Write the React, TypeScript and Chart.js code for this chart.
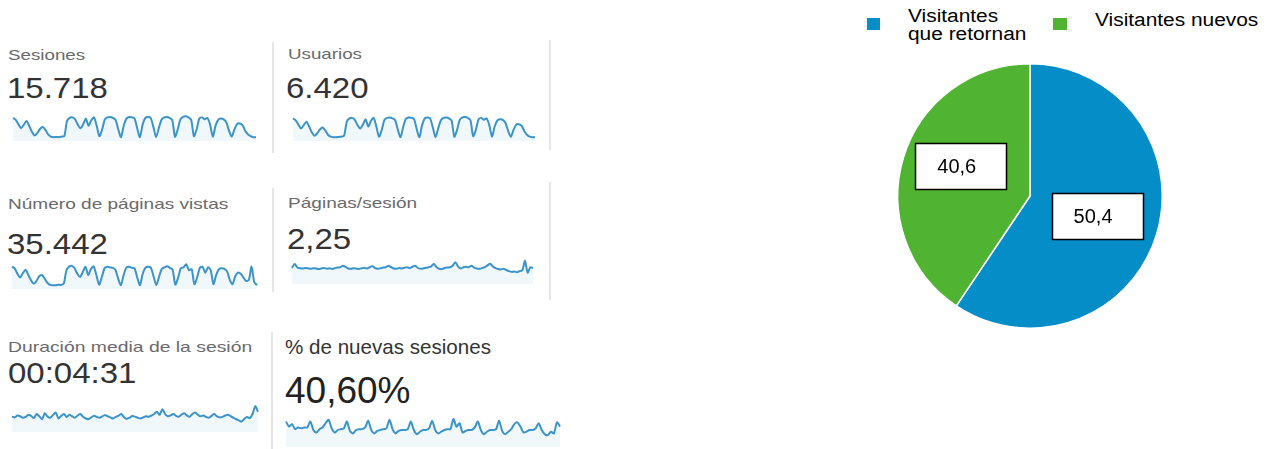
import React, { useEffect, useRef } from "react";
import { Chart, registerables } from "chart.js";

Chart.register(...registerables);

// ---------- DATA ----------
const metricLabels = [
  "Sesiones",
  "Usuarios",
  "Número de páginas vistas",
  "Páginas/sesión",
  "Duración media de la sesión",
  "% de nuevas sesiones",
];
const metricValues = ["15.718", "6.420", "35.442", "2,25", "00:04:31", "40,60%"];

const sesionesSeries = [
  88, 80, 62, 45, 60, 75, 55, 30, 15, 25,
  42, 50, 38, 20, 10, 8, 9, 8, 10, 12,
  75, 88, 90, 82, 60, 45, 62, 85, 55, 78,
  90, 55, 12, 40, 82, 90, 92, 88, 80, 40,
  8, 55, 85, 92, 90, 86, 45, 8, 60, 88,
  92, 88, 50, 8, 45, 80, 90, 92, 88, 78,
  10, 40, 82, 92, 95, 90, 80, 12, 40, 85,
  90, 82, 88, 60, 10, 55, 80, 85, 82, 70,
  35, 10, 40, 62, 65, 58, 35, 20, 12, 8,
  8,
];
const usuariosSeries = [
  86, 78, 60, 44, 58, 72, 52, 28, 14, 24,
  40, 48, 36, 18, 10, 8, 8, 9, 10, 14,
  72, 86, 88, 80, 58, 44, 60, 82, 52, 76,
  88, 52, 10, 38, 80, 88, 90, 86, 78, 38,
  8, 52, 84, 90, 88, 84, 42, 8, 58, 86,
  90, 86, 48, 8, 44, 78, 88, 90, 86, 76,
  10, 38, 80, 90, 92, 88, 78, 12, 38, 82,
  88, 80, 86, 58, 10, 52, 78, 82, 80, 68,
  34, 10, 38, 60, 62, 56, 34, 18, 10, 8,
  8,
];
const paginasVistasSeries = [
  85, 78, 55, 40, 58, 72, 50, 28, 14, 26,
  45, 50, 35, 18, 9, 8, 8, 10, 9, 14,
  70, 85, 88, 78, 55, 42, 62, 84, 50, 75,
  86, 50, 10, 42, 78, 84, 82, 80, 72, 35,
  8, 50, 80, 84, 80, 78, 40, 8, 55, 80,
  84, 80, 45, 8, 42, 75, 82, 86, 80, 72,
  10, 38, 78, 82, 95, 70, 74, 12, 40, 80,
  84, 60, 82, 70, 12, 50, 75, 78, 76, 65,
  30, 12, 45, 60, 55, 40, 25, 30, 85, 20,
  8,
];
const paginasSesionSeries = [
  2.26, 2.5, 2.28, 2.24, 2.22, 2.25, 2.23, 2.2, 2.24, 2.22,
  2.18, 2.22, 2.25, 2.2, 2.23, 2.19, 2.24, 2.28, 2.3, 2.4,
  2.32, 2.22, 2.2, 2.24, 2.21, 2.18, 2.23, 2.26, 2.22, 2.3,
  2.37, 2.25, 2.2, 2.23, 2.28, 2.3, 2.4, 2.3, 2.22, 2.2,
  2.25, 2.22, 2.27, 2.3, 2.24, 2.33, 2.4, 2.25, 2.2, 2.22,
  2.26, 2.3, 2.36, 2.5, 2.3, 2.2, 2.18, 2.25, 2.28, 2.3,
  2.4, 2.62, 2.35, 2.22, 2.3, 2.33, 2.3, 2.4, 2.28, 2.22,
  2.2, 2.24, 2.3, 2.42, 2.52, 2.35, 2.24, 2.18, 2.15, 2.2,
  2.12, 2.05, 2.0, 2.02, 1.98, 2.05, 2.1, 2.72, 1.95, 2.3,
  2.25,
];
const duracionSeries = [
  265, 255, 280, 270, 250, 262, 290, 275, 245, 300,
  270, 230, 310, 265, 250, 285, 320, 240, 275, 300,
  260, 290, 270, 250, 280, 300, 262, 240, 230, 255,
  275, 262, 250, 268, 285, 270, 255, 240, 262, 278,
  300, 258, 235, 250, 272, 265, 250, 240, 255, 270,
  262, 280, 300, 330, 290, 365, 300, 270, 280, 300,
  275, 262, 290, 310, 280, 262, 300, 320, 290, 270,
  280, 262, 250, 275, 300, 268, 255, 262, 280, 290,
  270, 250, 230, 215, 200, 235, 260, 245, 300, 405,
  330,
];
const nuevasSeries = [
  50, 44, 47, 41, 43, 42, 43, 43, 50, 40,
  37, 41, 43, 48, 52, 42, 37, 40, 41, 42,
  50, 39, 36, 40, 41, 41, 43, 51, 40, 36,
  39, 40, 41, 42, 52, 41, 36, 39, 40, 40,
  41, 50, 40, 35, 38, 40, 40, 42, 51, 40,
  36, 38, 40, 41, 41, 53, 44, 48, 37, 39,
  40, 40, 43, 50, 40, 35, 38, 40, 40, 41,
  51, 39, 35, 38, 41, 47, 49, 44, 37, 38,
  40, 40, 42, 48, 40, 35, 34, 38, 36, 49,
  44,
];

const pieCategories = ["Visitantes que retornan", "Visitantes nuevos"];
const pieValues = [59.4, 40.6];
const pieLabelTexts = ["50,4", "40,6"];

// ---------- STYLE ----------
const FONT = "'Liberation Sans', Arial, Helvetica, sans-serif";
const PIE_COLORS = ["#058DC7", "#50B432"];
const SPARK_LINE = "#3a94cb";
const SPARK_FILL = "rgba(5,141,199,0.06)";
const PAD = 3;
const LABEL_RADIUS = [0.53, 0.57];
const LABEL_ANGLE_SHIFT = [0, 6.4];
const BOX_W = 91;
const BOX_H = 46;

type SparkProps = {
  data: number[];
  min: number;
  max: number;
  left: number;
  top: number;
  width: number;
  height: number;
};

function Sparkline({ data, min, max, left, top, width, height }: SparkProps) {
  const ref = useRef<HTMLCanvasElement>(null);
  useEffect(() => {
    const chart = new Chart(ref.current as HTMLCanvasElement, {
      type: "line",
      data: {
        labels: data.map((_, i) => String(i)),
        datasets: [
          {
            data,
            borderColor: SPARK_LINE,
            borderWidth: 2,
            backgroundColor: SPARK_FILL,
            fill: "start",
            pointRadius: 0,
            tension: 0.25,
            clip: false as any,
          },
        ],
      },
      options: {
        animation: false,
        responsive: false,
        events: [],
        layout: { padding: PAD },
        plugins: { legend: { display: false }, tooltip: { enabled: false } },
        scales: {
          x: { display: false, offset: false },
          y: { display: false, min, max },
        },
      },
    });
    return () => chart.destroy();
  }, []);
  const w = width + 2 * PAD;
  const h = height + 2 * PAD;
  return (
    <canvas
      ref={ref}
      width={w}
      height={h}
      style={{ position: "absolute", left: left - PAD, top: top - PAD, width: w, height: h }}
    />
  );
}

type TextProps = {
  text: string;
  left: number;
  capTop: number;
  size: number;
  sx: number;
  color: string;
};
function Txt({ text, left, capTop, size, sx, color }: TextProps) {
  return (
    <div
      style={{
        position: "absolute",
        left,
        top: capTop - 0.1305 * size,
        fontFamily: FONT,
        fontSize: size,
        lineHeight: `${size}px`,
        color,
        whiteSpace: "nowrap",
        transform: `scaleX(${sx})`,
        transformOrigin: "left top",
      }}
    >
      {text}
    </div>
  );
}

function Sep({ left, top, bottom }: { left: number; top: number; bottom: number }) {
  return (
    <div
      style={{ position: "absolute", left, top, width: 2, height: bottom - top, background: "#e6e6e6" }}
    />
  );
}

function Pie() {
  const ref = useRef<HTMLCanvasElement>(null);
  useEffect(() => {
    const boxPlugin = {
      id: "pieBoxes",
      afterDatasetsDraw(chart: any) {
        const ctx = chart.ctx as CanvasRenderingContext2D;
        const meta = chart.getDatasetMeta(0);
        meta.data.forEach((arc: any, i: number) => {
          const p = arc.getProps(["x", "y", "startAngle", "endAngle", "outerRadius"], true);
          const mid = (p.startAngle + p.endAngle) / 2 + (LABEL_ANGLE_SHIFT[i] * Math.PI) / 180;
          const r = p.outerRadius * LABEL_RADIUS[i];
          const cx = p.x + r * Math.cos(mid);
          const cy = p.y + r * Math.sin(mid);
          const bx = Math.round(cx - BOX_W / 2) + 0.5;
          const by = Math.round(cy - BOX_H / 2) + 0.5;
          ctx.save();
          ctx.fillStyle = "#ffffff";
          ctx.fillRect(bx, by, BOX_W, BOX_H);
          ctx.strokeStyle = "#000000";
          ctx.lineWidth = 1.5;
          ctx.strokeRect(bx, by, BOX_W, BOX_H);
          ctx.fillStyle = "#000000";
          ctx.font = `20px ${FONT}`;
          ctx.textAlign = "center";
          ctx.textBaseline = "middle";
          ctx.fillText(pieLabelTexts[i], cx - 4, cy + 1);
          ctx.restore();
        });
      },
    };
    const chart = new Chart(ref.current as HTMLCanvasElement, {
      type: "pie",
      data: {
        labels: pieCategories,
        datasets: [
          {
            data: pieValues,
            backgroundColor: PIE_COLORS,
            borderColor: "#ffffff",
            borderWidth: 1.5,
          },
        ],
      },
      options: {
        animation: false,
        responsive: false,
        events: [],
        layout: { padding: 17 },
        plugins: { legend: { display: false }, tooltip: { enabled: false } },
      },
      plugins: [boxPlugin],
    });
    return () => chart.destroy();
  }, []);
  return (
    <canvas
      ref={ref}
      width={300}
      height={300}
      style={{ position: "absolute", left: 880, top: 46, width: 300, height: 300 }}
    />
  );
}

export default function App() {
  const lblColor = "#6a6a6a";
  const valColor = "#333333";
  return (
    <div
      style={{
        position: "fixed",
        left: 0,
        top: 0,
        width: 1272,
        height: 449,
        background: "#ffffff",
        overflow: "hidden",
      }}
    >
      {/* Row 1 */}
      <Txt text={metricLabels[0]} left={8} capTop={48.5} size={15} sx={1.25} color={lblColor} />
      <Txt text={metricValues[0]} left={7} capTop={77} size={30} sx={1.1} color={valColor} />
      <Sparkline data={sesionesSeries} min={-8} max={100} left={13} top={115} width={243} height={26} />
      <Sep left={272} top={42} bottom={153} />
      <Txt text={metricLabels[1]} left={288} capTop={48} size={15} sx={1.25} color={lblColor} />
      <Txt text={metricValues[1]} left={286} capTop={77} size={30} sx={1.1} color={valColor} />
      <Sparkline data={usuariosSeries} min={-8} max={100} left={293} top={115} width={242} height={26} />
      <Sep left={549} top={40} bottom={150} />

      {/* Row 2 */}
      <Txt text={metricLabels[2]} left={8} capTop={197.5} size={15} sx={1.27} color={lblColor} />
      <Txt text={metricValues[2]} left={7} capTop={233} size={30} sx={1.1} color={valColor} />
      <Sparkline data={paginasVistasSeries} min={-8} max={100} left={12} top={263} width={245} height={26} />
      <Sep left={272} top={188} bottom={292} />
      <Txt text={metricLabels[3]} left={288} capTop={197} size={15} sx={1.27} color={lblColor} />
      <Txt text={metricValues[3]} left={287} capTop={228} size={30} sx={1.1} color={valColor} />
      <Sparkline data={paginasSesionSeries} min={1.22} max={2.7} left={292} top={261} width={241} height={23} />
      <Sep left={549} top={182} bottom={300} />

      {/* Row 3 */}
      <Txt text={metricLabels[4]} left={8} capTop={340.5} size={15} sx={1.29} color={lblColor} />
      <Txt text={metricValues[4]} left={8} capTop={362} size={30} sx={1.1} color={valColor} />
      <Sparkline data={duracionSeries} min={60} max={420} left={12} top={405} width={246} height={27} />
      <Sep left={271} top={332} bottom={449} />
      <Txt text={metricLabels[5]} left={285} capTop={338.5} size={21} sx={0.98} color="#333333" />
      <Txt text={metricValues[5]} left={285} capTop={377} size={37} sx={1.0} color="#222222" />
      <Sparkline data={nuevasSeries} min={20} max={60} left={286} top={413} width={274} height={34} />

      {/* Pie legend */}
      <div style={{ position: "absolute", left: 867, top: 18, width: 13, height: 12, background: PIE_COLORS[0] }} />
      <div
        style={{
          position: "absolute",
          left: 908,
          top: 8,
          width: 106,
          fontFamily: FONT,
          fontSize: 18,
          lineHeight: "17.5px",
          color: "#000",
          transform: "scaleX(1.16)",
          transformOrigin: "left top",
        }}
      >
        {pieCategories[0]}
      </div>
      <div style={{ position: "absolute", left: 1053, top: 18, width: 14, height: 12, background: PIE_COLORS[1] }} />
      <div
        style={{
          position: "absolute",
          left: 1095,
          top: 12.5,
          fontFamily: FONT,
          fontSize: 18,
          lineHeight: "15px",
          color: "#000",
          whiteSpace: "nowrap",
          transform: "scaleX(1.16)",
          transformOrigin: "left top",
        }}
      >
        {pieCategories[1]}
      </div>

      <Pie />
    </div>
  );
}
